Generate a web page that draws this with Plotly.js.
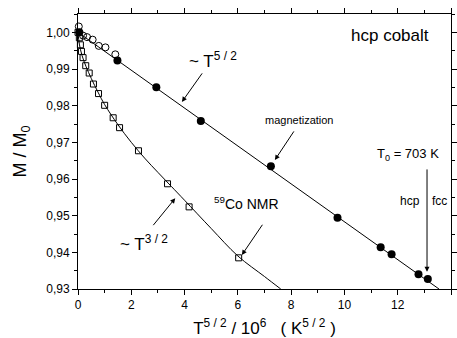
<!DOCTYPE html>
<html><head><meta charset="utf-8">
<script src="https://cdn.plot.ly/plotly-3.0.1.min.js"></script>
<style>body{margin:0;background:#fff}#chart{width:457px;height:338px}</style>
</head><body><div id="chart"></div>
<script>
// Magnetization (filled circles)
const magX = [0.05, 1.48, 2.94, 4.61, 7.24, 9.74, 11.36, 11.77, 12.78, 13.13];
const magY = [1.000, 0.9923, 0.9850, 0.9758, 0.9635, 0.9494, 0.9414, 0.9395, 0.9340, 0.9327];
// Magnetization low-T (open circles)
const magLowX = [0.03, 0.19, 0.34, 0.55, 0.78, 1.03, 1.40];
const magLowY = [1.0016, 0.9991, 0.9987, 0.9980, 0.9963, 0.9959, 0.9940];
// 59Co NMR (open squares)
const nmrX = [0.0, 0.05, 0.09, 0.13, 0.19, 0.29, 0.42, 0.58, 0.77, 1.00, 1.32, 1.56, 2.27, 3.36, 4.17, 6.03];
const nmrY = [1.000, 0.9985, 0.9966, 0.9948, 0.9931, 0.9909, 0.9889, 0.9859, 0.9833, 0.9801, 0.9767, 0.9740, 0.9677, 0.9587, 0.9524, 0.9385];
// Fit line ~T^(5/2)
const fitMagX = [0, 13.55];
const fitMagY = [1.000, 0.930];
// Fit curve ~T^(3/2)
const fitNmrX = [0, 0.05, 0.15, 0.3, 0.5, 0.75, 1.0, 1.5, 2.0, 2.5, 3.0, 3.5, 4.0, 5.0, 6.0, 7.0, 7.61];
const fitNmrY = [1.000, 0.9968, 0.9937, 0.9907, 0.9874, 0.9837, 0.9803, 0.9748, 0.9700, 0.9657, 0.9618, 0.9580, 0.9542, 0.9465, 0.9390, 0.9334, 0.9300];

const xTicks = [0, 2, 4, 6, 8, 10, 12, 14];
const yTicks = [0.93, 0.94, 0.95, 0.96, 0.97, 0.98, 0.99, 1.00];

const F = '"Liberation Sans", Arial, sans-serif';
const traces = [
  {x: fitMagX, y: fitMagY, mode: 'lines', line: {color: '#000', width: 1}, hoverinfo: 'skip'},
  {x: fitNmrX, y: fitNmrY, mode: 'lines', line: {color: '#000', width: 1, shape: 'spline'}, hoverinfo: 'skip'},
  {x: nmrX, y: nmrY, mode: 'markers', cliponaxis: false,
   marker: {symbol: 'square-open', size: 6, color: '#000', line: {width: 1}}},
  {x: magLowX, y: magLowY, mode: 'markers', cliponaxis: false,
   marker: {symbol: 'circle-open', size: 7, color: '#000', line: {width: 1}}},
  {x: magX, y: magY, mode: 'markers', cliponaxis: false,
   marker: {symbol: 'circle', size: 8, color: '#000'}}
];

function arrow(tx, ty, hx, hy) {
  return {x: hx, y: hy, ax: tx, ay: ty, xref: 'x', yref: 'y', axref: 'x', ayref: 'y',
          text: '', showarrow: true, arrowhead: 2, arrowsize: 1, arrowwidth: 1, arrowcolor: '#000'};
}
function label(x, y, t, size) {
  return {x: x, y: y, xref: 'x', yref: 'y', text: t, showarrow: false, xanchor: 'center', yanchor: 'middle',
          font: {family: F, size: size, color: '#000'}};
}

const layout = {
  width: 457, height: 338,
  margin: {l: 77.5, r: 6, t: 14, b: 49},
  paper_bgcolor: '#fff', plot_bgcolor: '#fff',
  showlegend: false,
  separators: ',.',
  font: {family: F, color: '#000'},
  xaxis: {
    range: [0, 14], tickvals: xTicks, ticks: 'outside', ticklen: 5, tickwidth: 1, tickcolor: '#000',
    showline: true, linecolor: '#000', linewidth: 1, mirror: 'ticks', showgrid: false, zeroline: false,
    tickfont: {family: F, size: 12},
    minor: {dtick: 1, ticks: 'outside', ticklen: 3, tickcolor: '#000', showgrid: false},
    title: {text: 'T<sup>5 / 2</sup> / 10<sup>6</sup>   ( K<sup>5 / 2</sup> )', font: {family: F, size: 17}, standoff: 10}
  },
  yaxis: {
    range: [0.93, 1.005], tickvals: yTicks, tickformat: '.2f', ticks: 'outside', ticklen: 5, tickwidth: 1, tickcolor: '#000',
    showline: true, linecolor: '#000', linewidth: 1, mirror: 'ticks', showgrid: false, zeroline: false,
    tickfont: {family: F, size: 12},
    minor: {dtick: 0.005, ticks: 'outside', ticklen: 3, tickcolor: '#000', showgrid: false},
    title: {text: 'M / M<sub>0</sub>', font: {family: F, size: 18}, standoff: 14}
  },
  annotations: [
    label(11.70, 0.99904, 'hcp cobalt', 17),
    label(5.07, 0.9925, '~ T<sup>5 / 2</sup>', 17),
    label(8.33, 0.9761, 'magnetization', 11),
    label(12.37, 0.9668, 'T<sub>0</sub> = 703 K', 13),
    label(12.45, 0.9540, 'hcp', 12),
    label(13.57, 0.9540, 'fcc', 12),
    label(6.31, 0.9535, '<sup>59</sup>Co NMR', 14),
    label(2.49, 0.9425, '~ T<sup>3 / 2</sup>', 17),
    arrow(4.70, 0.98922, 3.90, 0.98103),
    arrow(8.14, 0.97339, 7.39, 0.96520),
    arrow(13.10, 0.96302, 13.10, 0.93472),
    arrow(6.96, 0.94793, 6.15, 0.93927),
    arrow(2.78, 0.94700, 3.65, 0.95475)
  ]
};
Plotly.newPlot('chart', traces, layout, {displayModeBar: false, staticPlot: true});
</script></body></html>
